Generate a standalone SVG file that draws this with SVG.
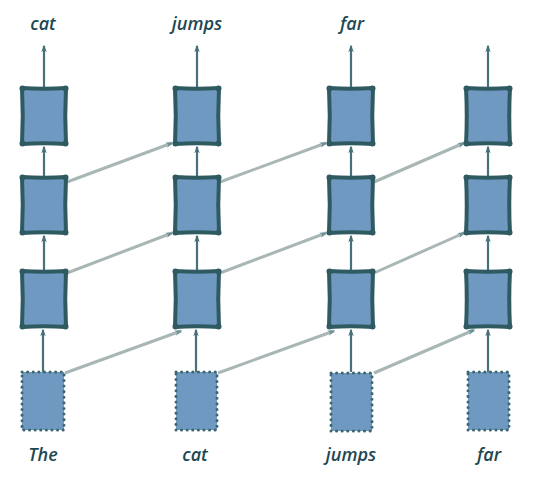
<svg xmlns="http://www.w3.org/2000/svg" width="549" height="485" viewBox="0 0 549 485">
<style>
.lbl{font-family:"Open Sans","Liberation Sans",sans-serif;font-style:italic;font-weight:600;font-size:18px;fill:#1d4852;text-anchor:middle}
.cell{fill:#7099c2;stroke:#2f5a62;stroke-width:4;stroke-linejoin:round}
.inp{fill:#7099c2;stroke:#3d6770;stroke-width:3;stroke-dasharray:0.1 5.5;stroke-linecap:round}
.v{stroke:#46707a;stroke-width:2.2;fill:none;marker-end:url(#ah)}
.d{stroke:#a9b6b6;stroke-width:3;fill:none;marker-end:url(#ad)}
</style>
<defs>
<marker id="ah" viewBox="0 0 10 10" refX="8" refY="5" markerWidth="3.6" markerHeight="3.6" orient="auto" markerUnits="strokeWidth">
<path d="M0,1.5 L10,5 L0,8.5 L3,5 z" fill="#46707a"/>
</marker>
<marker id="ad" viewBox="0 0 10 10" refX="8" refY="5" markerWidth="2.6" markerHeight="2.6" orient="auto" markerUnits="strokeWidth">
<path d="M0,1.5 L10,5 L0,8.5 L3,5 z" fill="#6a9096"/>
</marker>
<g id="sq">
<path d="M-22,-28 Q0,-26.5 22,-28 Q20.5,0 22,28 Q0,26.5 -22,28 Q-20.5,0 -22,-28 Z"/>
<circle cx="-21.5" cy="-27.5" r="3" stroke="none" fill="#2f5a62"/>
<circle cx="21.5" cy="-27.5" r="3" stroke="none" fill="#2f5a62"/>
<circle cx="-21.5" cy="27.5" r="3" stroke="none" fill="#2f5a62"/>
<circle cx="21.5" cy="27.5" r="3" stroke="none" fill="#2f5a62"/>
</g>
</defs>
<rect width="549" height="485" fill="#ffffff"/>

<g id="connectors">
<line class="v" x1="44" y1="88" x2="44" y2="46"/>
<line class="v" x1="197" y1="88" x2="197" y2="46"/>
<line class="v" x1="351" y1="88" x2="351" y2="46"/>
<line class="v" x1="488" y1="88" x2="488" y2="46"/>
<line class="v" x1="44" y1="177" x2="44" y2="147"/>
<line class="v" x1="197" y1="177" x2="197" y2="147"/>
<line class="v" x1="351" y1="177" x2="351" y2="147"/>
<line class="v" x1="488" y1="177" x2="488" y2="147"/>
<line class="v" x1="44" y1="271" x2="44" y2="236"/>
<line class="v" x1="197" y1="271" x2="197" y2="236"/>
<line class="v" x1="351" y1="271" x2="351" y2="236"/>
<line class="v" x1="488" y1="271" x2="488" y2="236"/>
<line class="v" x1="43" y1="372" x2="43" y2="330"/>
<line class="v" x1="196" y1="372" x2="196" y2="330"/>
<line class="v" x1="351" y1="372" x2="351" y2="330"/>
<line class="v" x1="488" y1="372" x2="488" y2="330"/>
<line class="d" x1="67" y1="182" x2="172" y2="143"/>
<line class="d" x1="220" y1="182" x2="326" y2="143"/>
<line class="d" x1="374" y1="182" x2="464" y2="143"/>
<line class="d" x1="67" y1="273" x2="172" y2="233"/>
<line class="d" x1="220" y1="273" x2="326" y2="233"/>
<line class="d" x1="374" y1="273" x2="464" y2="233"/>
<line class="d" x1="65" y1="373" x2="181" y2="331"/>
<line class="d" x1="218" y1="373" x2="334" y2="331"/>
<line class="d" x1="374" y1="373" x2="474" y2="330"/>
</g>

<g id="h1_1"><use href="#sq" class="cell" transform="translate(44,116)"/></g>
<g id="h1_2"><use href="#sq" class="cell" transform="translate(197,116)"/></g>
<g id="h1_3"><use href="#sq" class="cell" transform="translate(351,116)"/></g>
<g id="h1_4"><use href="#sq" class="cell" transform="translate(488,116)"/></g>
<g id="h2_1"><use href="#sq" class="cell" transform="translate(44,205)"/></g>
<g id="h2_2"><use href="#sq" class="cell" transform="translate(197,205)"/></g>
<g id="h2_3"><use href="#sq" class="cell" transform="translate(351,205)"/></g>
<g id="h2_4"><use href="#sq" class="cell" transform="translate(488,205)"/></g>
<g id="h3_1"><use href="#sq" class="cell" transform="translate(44,299)"/></g>
<g id="h3_2"><use href="#sq" class="cell" transform="translate(197,299)"/></g>
<g id="h3_3"><use href="#sq" class="cell" transform="translate(351,299)"/></g>
<g id="h3_4"><use href="#sq" class="cell" transform="translate(488,299)"/></g>

<g id="in_1"><rect class="inp" x="22" y="372" width="42" height="58"/></g>
<g id="in_2"><rect class="inp" x="176" y="372" width="41" height="58"/></g>
<g id="in_3"><rect class="inp" x="331" y="373" width="41" height="58"/></g>
<g id="in_4"><rect class="inp" x="468" y="372" width="41" height="58"/></g>

<g id="labels">
<text class="lbl" x="43" y="30">cat</text>
<text class="lbl" x="197" y="30">jumps</text>
<text class="lbl" x="352" y="30">far</text>
<text class="lbl" x="43" y="461">The</text>
<text class="lbl" x="195" y="461">cat</text>
<text class="lbl" x="351" y="461">jumps</text>
<text class="lbl" x="489" y="461">far</text>
</g>
</svg>
